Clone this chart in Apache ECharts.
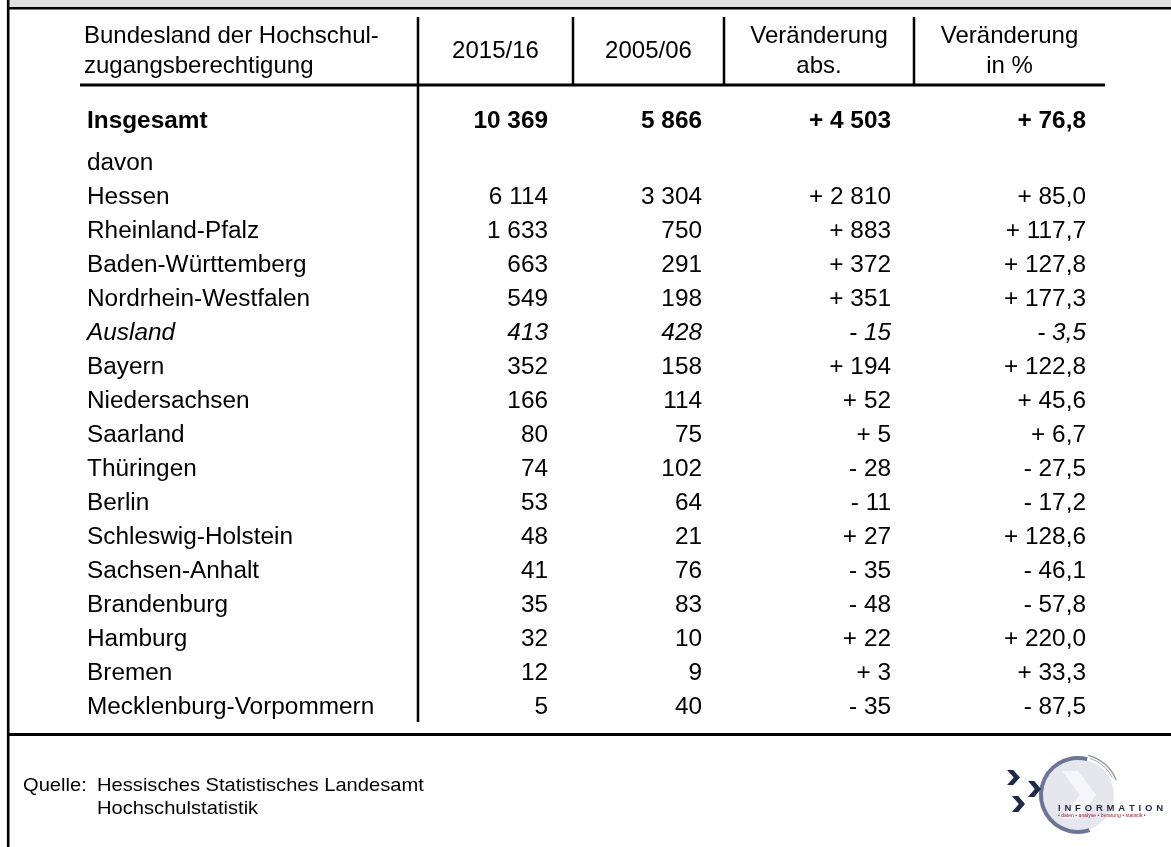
<!DOCTYPE html>
<html><head><meta charset="utf-8">
<script src="https://cdn.jsdelivr.net/npm/echarts@6/dist/echarts.min.js"></script>
<style>html,body{margin:0;padding:0;background:#fff}#c{width:1171px;height:847px}</style>
</head><body><div id="c"></div>
<script>
// ---- data ----
const headers = ['Bundesland der Hochschul-\nzugangsberechtigung', '2015/16', '2005/06', 'Veränderung\nabs.', 'Veränderung\nin %'];
const regions = ['Insgesamt', 'davon', 'Hessen', 'Rheinland-Pfalz', 'Baden-Württemberg', 'Nordrhein-Westfalen', 'Ausland', 'Bayern', 'Niedersachsen', 'Saarland', 'Thüringen', 'Berlin', 'Schleswig-Holstein', 'Sachsen-Anhalt', 'Brandenburg', 'Hamburg', 'Bremen', 'Mecklenburg-Vorpommern'];
const students2015 = [10369, null, 6114, 1633, 663, 549, 413, 352, 166, 80, 74, 53, 48, 41, 35, 32, 12, 5];
const students2005 = [5866, null, 3304, 750, 291, 198, 428, 158, 114, 75, 102, 64, 21, 76, 83, 10, 9, 40];
const changeAbs = [4503, null, 2810, 883, 372, 351, -15, 194, 52, 5, -28, -11, 27, -35, -48, 22, 3, -35];
const changePct = [76.8, null, 85.0, 117.7, 127.8, 177.3, -3.5, 122.8, 45.6, 6.7, -27.5, -17.2, 128.6, -46.1, -57.8, 220.0, 33.3, -87.5];
const sourceLines = ['Quelle:', 'Hessisches Statistisches Landesamt', 'Hochschulstatistik'];
const logoWord = 'INFORMATION';
const logoTagline = '• daten • analyse • beratung • statistik •';

// ---- formatting ----
function grp(n) { return String(n).replace(/\B(?=(\d{3})+(?!\d))/g, ' '); }
function fmtInt(v) { return v == null ? '' : grp(v); }
function fmtSigned(v) { return v == null ? '' : (v < 0 ? '- ' : '+ ') + grp(Math.abs(v)); }
function fmtPct(v) { return v == null ? '' : (v < 0 ? '- ' : '+ ') + Math.abs(v).toFixed(1).replace('.', ','); }
const columns = [
  i => regions[i],
  i => fmtInt(students2015[i]),
  i => fmtInt(students2005[i]),
  i => fmtSigned(changeAbs[i]),
  i => fmtPct(changePct[i])
];

// ---- layout (styles only) ----
const FONT = '"Liberation Sans", Arial, sans-serif';
const FS = 23;
const SX = 1.06;
const colLeft = [84, 418, 573, 724, 914];
const colRight = [418, 573, 724, 914, 1105];
const padRight = [0, 25, 22, 23, 19];
const gridTop = 113, gridHeight = 612;

const grids = [], xAxes = [], yAxes = [], series = [];
for (let c = 0; c < 5; c++) {
  grids.push({ left: colLeft[c], width: colRight[c] - colLeft[c], top: gridTop, height: gridHeight, containLabel: false });
  xAxes.push({
    type: 'category', gridIndex: c, position: 'top',
    data: c === 0 ? [headers[0], ''] : [headers[c]],
    boundaryGap: c !== 0,
    axisLine: { show: false }, axisTick: { show: false }, splitLine: { show: false },
    axisLabel: {
      interval: 0, margin: 62, verticalAlign: 'middle', align: c === 0 ? 'left' : 'center',
      lineHeight: 30, fontSize: 24, fontFamily: FONT, color: '#000'
    }
  });
  yAxes.push({ type: 'category', gridIndex: c, data: regions, inverse: true, show: false });
  series.push({
    type: 'custom', xAxisIndex: c, yAxisIndex: c, silent: true,
    data: regions.map((r, i) => [0, i]),
    renderItem: (function (col) {
      return function (params, api) {
        const i = params.dataIndex;
        const txt = columns[col](i);
        if (!txt) return null;
        const p = api.coord([api.value(0), api.value(1)]);
        const s = api.size([1, 1]);
        const x = col === 0 ? p[0] + 3 : p[0] + s[0] / 2 - padRight[col];
        const y = p[1] + (i === 0 ? -8 : 0);
        let font = FS + 'px ' + FONT;
        if (i === 0) font = 'bold ' + font;
        if (regions[i] === 'Ausland') font = 'italic ' + font;
        return {
          type: 'text', x: x, y: y, scaleX: SX,
          style: { text: txt, font: font, fill: '#000', align: col === 0 ? 'left' : 'right', verticalAlign: 'middle' }
        };
      };
    })(c)
  });
}

// ---- table rules & footer (decoration) ----
function line(x1, y1, x2, y2, w) {
  return { type: 'line', silent: true, shape: { x1, y1, x2, y2 }, style: { stroke: '#000', lineWidth: w } };
}
function chevron(x0, y0, w, h, fill) {
  return { type: 'polygon', silent: true, shape: { points: [[x0, y0], [x0 + w * 0.48, y0], [x0 + w, y0 + h / 2], [x0 + w * 0.48, y0 + h], [x0, y0 + h], [x0 + w * 0.52, y0 + h / 2]] }, style: { fill } };
}
const srcFont = '19px ' + FONT;
const graphic = [
  { type: 'rect', silent: true, shape: { x: 9, y: 0, width: 1162, height: 7 }, style: { fill: '#dfdfdf' } },
  line(7, 8.2, 1171, 8.2, 2.6),
  line(8.2, 0, 8.2, 847, 2.6),
  line(80, 85, 1105, 85, 3),
  line(418, 17, 418, 722, 2.5),
  line(573, 17, 573, 85, 2.5),
  line(724, 17, 724, 85, 2.5),
  line(914, 17, 914, 85, 2.5),
  line(7, 734.5, 1171, 734.5, 3),
  { type: 'text', silent: true, x: 23, y: 786, scaleX: SX, style: { text: sourceLines[0], font: srcFont, fill: '#000', verticalAlign: 'middle' } },
  { type: 'text', silent: true, x: 97, y: 786, scaleX: SX, style: { text: sourceLines[1], font: srcFont, fill: '#000', verticalAlign: 'middle' } },
  { type: 'text', silent: true, x: 97, y: 809, scaleX: SX, style: { text: sourceLines[2], font: srcFont, fill: '#000', verticalAlign: 'middle' } },
  // logo
  { type: 'circle', silent: true, shape: { cx: 1078, cy: 795, r: 36 }, style: { fill: '#e6e6ee' } },
  chevron(1062, 771, 34, 48, '#f6f6f8'),
  { type: 'arc', silent: true, shape: { cx: 1078, cy: 795, r: 37, startAngle: -Math.PI * 0.42, endAngle: Math.PI * 0.40, clockwise: false }, style: { stroke: '#6c7497', lineWidth: 4, fill: null } },
  { type: 'arc', silent: true, shape: { cx: 1078, cy: 795, r: 41, startAngle: -Math.PI * 0.42, endAngle: -Math.PI * 0.12, clockwise: true }, style: { stroke: '#8a90ac', lineWidth: 1.3, fill: null } },
  { type: 'arc', silent: true, shape: { cx: 1078, cy: 795, r: 38.5, startAngle: -Math.PI * 0.40, endAngle: -Math.PI * 0.15, clockwise: true }, style: { stroke: '#a5aac0', lineWidth: 1, fill: null } },
  chevron(1007, 770, 13, 15, '#1f2a44'),
  chevron(1028, 781, 13, 16, '#1f2a44'),
  chevron(1012, 796, 13, 16, '#1f2a44'),
  { type: 'text', silent: true, x: 1058, y: 808, style: { text: logoWord.split('').join('\u2009\u2009'), font: 'bold 9.5px ' + FONT, fill: '#1f2a44', verticalAlign: 'middle' } },
  { type: 'text', silent: true, x: 1058, y: 816, style: { text: logoTagline, font: '5.1px ' + FONT, fill: '#9b2335', verticalAlign: 'middle' } }
];

const chart = echarts.init(document.getElementById('c'), null, { renderer: 'canvas', devicePixelRatio: 1 });
chart.setOption({
  animation: false,
  backgroundColor: '#fff',
  grid: grids, xAxis: xAxes, yAxis: yAxes, series: series,
  graphic: graphic
});
</script></body></html>
